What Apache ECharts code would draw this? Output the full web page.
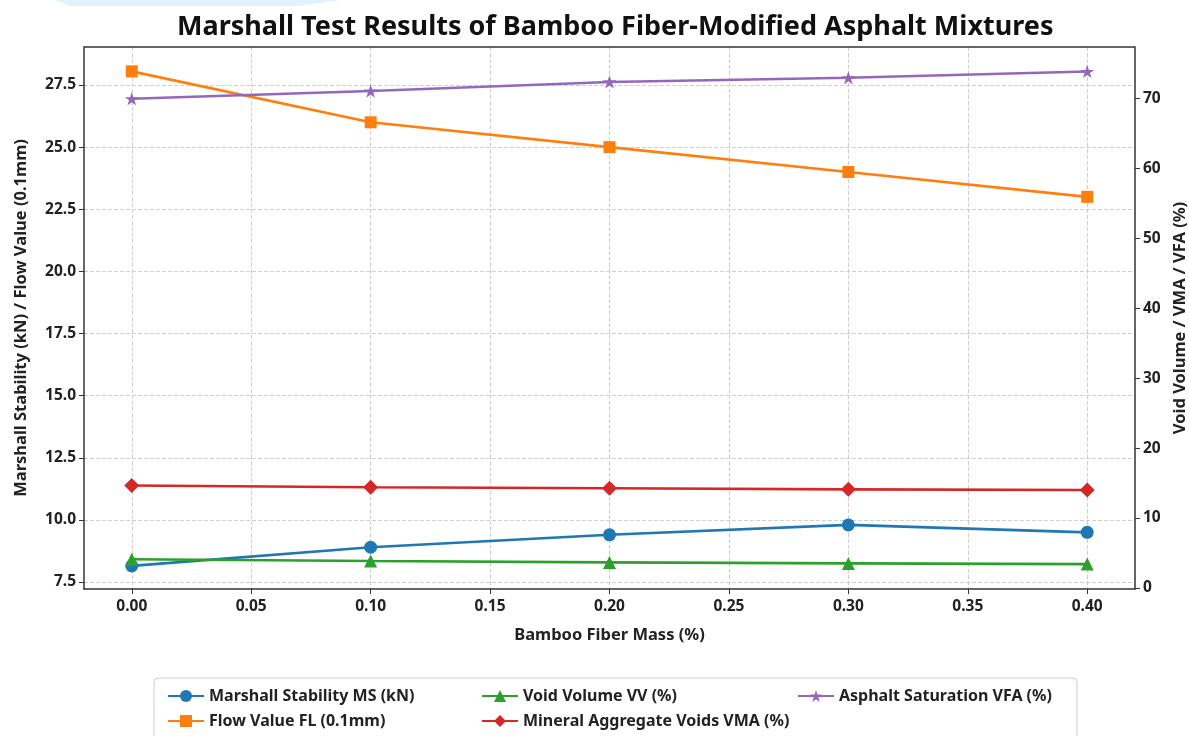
<!DOCTYPE html>
<html>
<head>
<meta charset="utf-8">
<script src="https://cdn.jsdelivr.net/npm/echarts@6/dist/echarts.min.js"></script>
<style>
html,body{margin:0;padding:0;background:#fff;}
#chart{width:1189px;height:736px;}
</style>
</head>
<body>
<div id="chart"></div>
<script>
const fiberMass = [0.00, 0.10, 0.20, 0.30, 0.40];
const stabilityMS = [8.15, 8.9, 9.4, 9.8, 9.5];
const flowFL = [28.05, 26.0, 25.0, 24.0, 23.0];
const voidVV = [4.1, 3.85, 3.65, 3.5, 3.4];
const mineralVMA = [14.65, 14.4, 14.25, 14.1, 14.0];
const saturationVFA = [70.0, 71.1, 72.4, 73.0, 73.9];
const xTicks = [0, 0.05, 0.10, 0.15, 0.20, 0.25, 0.30, 0.35, 0.40];
const leftTicks = [7.5, 10, 12.5, 15, 17.5, 20, 22.5, 25, 27.5];
const rightTicks = [0, 10, 20, 30, 40, 50, 60, 70];

const names = {
  ms: 'Marshall Stability MS (kN)',
  fl: 'Flow Value FL (0.1mm)',
  vv: 'Void Volume VV (%)',
  vma: 'Mineral Aggregate Voids VMA (%)',
  vfa: 'Asphalt Saturation VFA (%)'
};
const colors = {ms:'#1f77b4', fl:'#ff7f0e', vv:'#2ca02c', vma:'#d62728', vfa:'#9467bd'};
const star = 'path://M100,0 L122.45,69.1 L195.1,69.1 L136.3,111.8 L158.8,180.9 L100,138.2 L41.2,180.9 L63.7,111.8 L4.9,69.1 L77.55,69.1 Z';
const FONT = 'Noto Sans';

function pairs(ys){ return fiberMass.map((x,i)=>[x, ys[i]]); }
function mk(key, ys, yIdx, symbol, size){
  return {
    name: names[key], type:'line', yAxisIndex: yIdx, data: pairs(ys),
    symbol: symbol, symbolSize: size, symbolKeepAspect: true,
    lineStyle:{color: colors[key], width: 2.6},
    itemStyle:{color: colors[key]},
    showSymbol: true, animation: false, z: 3
  };
}

const chart = echarts.init(document.getElementById('chart'), null, {renderer:'canvas'});
const tickText = {color:'#222', fontFamily: FONT, fontWeight:'bold', fontSize: 15.5};
const nameText = {color:'#222', fontFamily: FONT, fontWeight:'bold', fontSize: 16.5};
const legendCommon = {
  orient:'vertical', top: 683, itemWidth: 36, itemHeight: 15, itemGap: 9,
  textStyle:{color:'#222', fontFamily: FONT, fontWeight:'bold', fontSize: 16},
  selectedMode: false
};
chart.setOption({
  backgroundColor:'#ffffff',
  title:{
    text:'Marshall Test Results of Bamboo Fiber-Modified Asphalt Mixtures',
    left: 172, top: 9,
    textStyle:{color:'#111', fontFamily: FONT, fontWeight:'bold', fontSize: 27}
  },
  grid:{left:84, right:54, top:47, bottom:147, show:false, containLabel:false, outerBoundsMode:'none'},
  legend:[
    Object.assign({left:162, data:[names.ms, names.fl]}, legendCommon),
    Object.assign({left:476, data:[names.vv, names.vma]}, legendCommon),
    Object.assign({left:792, data:[names.vfa]}, legendCommon)
  ],
  xAxis:{
    type:'value', min:-0.02, max:0.42,
    name:'Bamboo Fiber Mass (%)', nameLocation:'middle', nameGap: 38,
    nameTextStyle: nameText,
    axisLine:{show:true, onZero:false, lineStyle:{color:'#333', width:1.5}},
    axisTick:{show:true, length:5, customValues: xTicks, lineStyle:{color:'#333'}},
    axisLabel: Object.assign({customValues: xTicks, margin: 10, formatter: v => v.toFixed(2)}, tickText),
    splitLine:{show:true, lineStyle:{color:'#cfcfcf', type:'dashed', width:1}}
  },
  yAxis:[
    {
      type:'value', min:7.22, max:29.03, position:'left',
      name:'Marshall Stability (kN) / Flow Value (0.1mm)', nameLocation:'middle', nameGap: 54,
      nameTextStyle: nameText,
      axisLine:{show:true, onZero:false, lineStyle:{color:'#333', width:1.5}},
      axisTick:{show:true, length:5, customValues: leftTicks, lineStyle:{color:'#333'}},
      axisLabel: Object.assign({customValues: leftTicks, margin: 8, formatter: v => v.toFixed(1)}, tickText),
      splitLine:{show:true, lineStyle:{color:'#cfcfcf', type:'dashed', width:1}}
    },
    {
      type:'value', min:-0.16, max:77.4, position:'right',
      name:'Void Volume / VMA / VFA (%)', nameLocation:'middle', nameGap: 37,
      nameTextStyle: nameText,
      axisLine:{show:true, onZero:false, lineStyle:{color:'#333', width:1.5}},
      axisTick:{show:true, length:5, customValues: rightTicks, lineStyle:{color:'#333'}},
      axisLabel: Object.assign({customValues: rightTicks, margin: 8}, tickText),
      splitLine:{show:false}
    }
  ],
  graphic:[
    {type:'polygon', shape:{points:[[55,0],[340,0],[300,6],[70,6]]}, style:{fill:'#e3f1fb'}, z:0},
    {type:'line', shape:{x1:84, y1:47, x2:1135, y2:47}, style:{stroke:'#333', lineWidth:1.5}, z:10},
    {type:'rect', shape:{x:154, y:678, width:923, height:72, r:4}, style:{fill:'none', stroke:'#cccccc', lineWidth:1}, z:1}
  ],
  series:[
    mk('ms', stabilityMS, 0, 'circle', 13),
    mk('fl', flowFL, 0, 'rect', 12),
    mk('vv', voidVV, 1, 'triangle', 13),
    mk('vma', mineralVMA, 1, 'diamond', 15),
    mk('vfa', saturationVFA, 1, star, 14)
  ]
});
</script>
</body>
</html>
